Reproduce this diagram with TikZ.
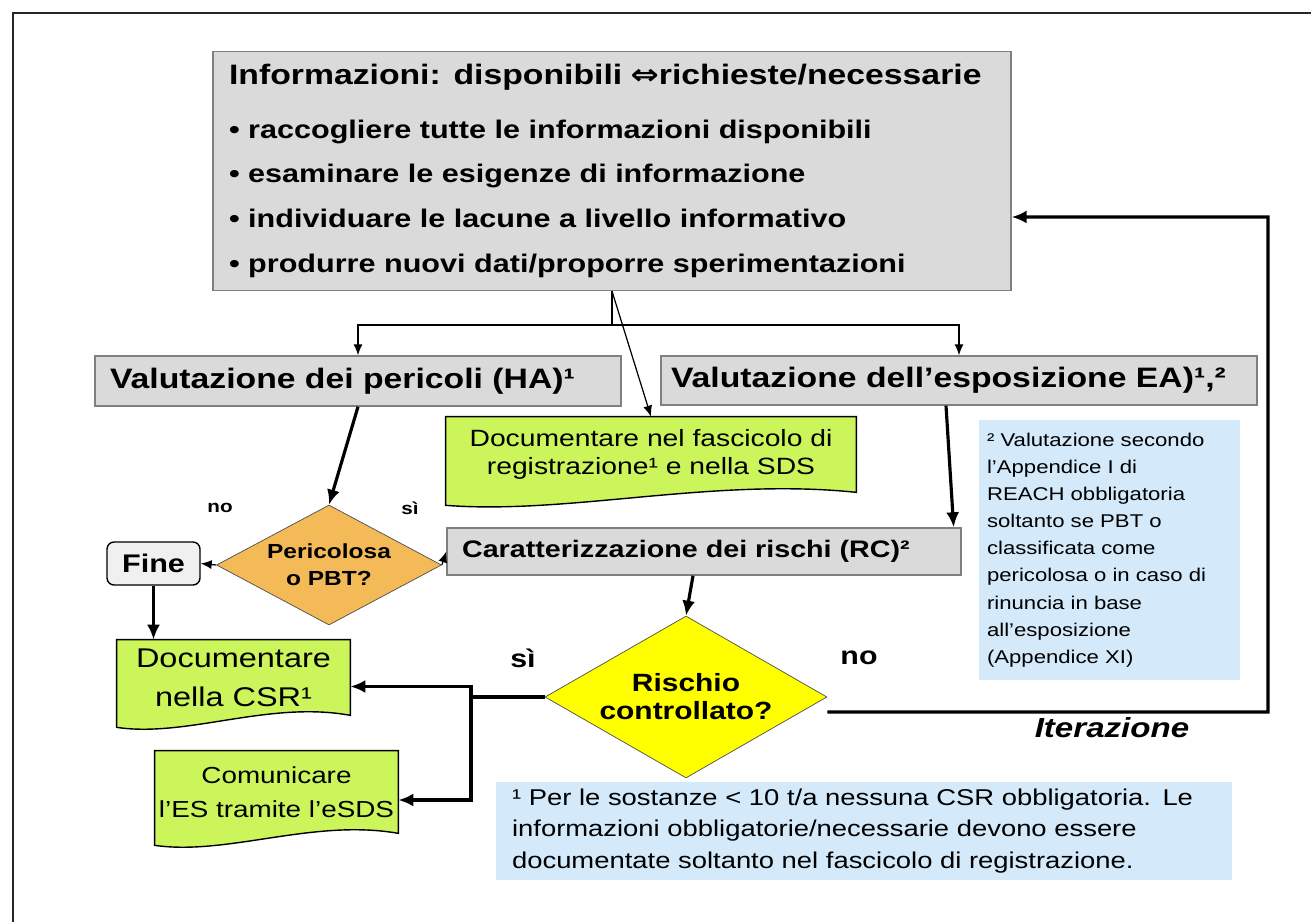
\documentclass[tikz,border=0pt]{standalone}
\usepackage{fontspec}
\setmainfont{Liberation Sans}[FakeStretch=1.2]
\newfontfamily\symfont{DejaVu Sans}[FakeStretch=1.2]
\usetikzlibrary{shapes.geometric}
\usetikzlibrary{arrows.meta}
\usetikzlibrary{calc}
\usetikzlibrary{backgrounds}

\definecolor{boxgray}{RGB}{218,218,218}
\definecolor{docgreen}{RGB}{204,245,92}
\definecolor{pbtorange}{RGB}{245,186,88}
\definecolor{ctrlyellow}{RGB}{255,255,0}
\definecolor{noteblue}{RGB}{212,233,250}

\begin{document}
\begin{tikzpicture}[x=0.02cm,y=-0.02cm,
  greybox/.style={draw=black!50, fill=boxgray, line width=0.8pt, inner ysep=0pt, align=left},
  docbox/.style={draw=black, fill=docgreen, line width=0.8pt},
  doctext/.style={inner sep=0pt, align=center},
  notebox/.style={fill=noteblue, inner ysep=0pt, align=left},
  flow/.style={-{Latex[length=2.2mm,width=1.8mm]}, line width=0.7pt},
  bigflow/.style={-{Latex[length=3mm,width=2.6mm]}, line width=1.8pt}]
    \useasboundingbox (0,0) rectangle (1311,922);
    \draw[line width=1pt, black!85] (13,922) -- (13,13) -- (1311,13);

    \node[greybox, text width=15.32cm, inner xsep=0.32cm, minimum height=4.78cm,
          font=\bfseries\fontsize{14.5}{25.5}\selectfont] (info) at (612,171)
      {{\fontsize{16}{25.5}\selectfont Informazioni: disponibili {\symfont ⇔}richieste/necessarie}\\[5pt]
       • raccogliere tutte le informazioni disponibili\\
       • esaminare le esigenze di informazione\\
       • individuare le lacune a livello informativo\\
       • produrre nuovi dati/proporre sperimentazioni\\[-6pt]};

    \node[greybox, text width=9.92cm, inner xsep=0.3cm, minimum height=1cm,
          font=\bfseries\fontsize{16}{18}\selectfont] (ha) at (358,381)
      {Valutazione dei pericoli (HA)¹};
    \node[greybox, text width=11.52cm, inner xsep=0.2cm, minimum height=0.98cm,
          font=\bfseries\fontsize{16}{18}\selectfont] (ea) at (959,380.5)
      {Valutazione dell'esposizione EA)¹,²};
    \node[doctext, minimum width=8.2cm, minimum height=1.5cm,
          font=\fontsize{13.4}{16.4}\selectfont] (docreg) at (651,454.5)
      {Documentare nel fascicolo di\\registrazione¹ e nella SDS};

    \node[diamond, aspect=1.875, draw=black!70, fill=pbtorange, inner sep=0pt,
          minimum width=4.5cm, minimum height=2.4cm, align=center,
          font=\bfseries\fontsize{11.6}{15.3}\selectfont] (pbt) at (329,565)
      {Pericolosa\\o PBT?};
    \node[draw=black, fill=black!6, rounded corners=4pt, line width=0.8pt,
          minimum width=1.86cm, minimum height=0.86cm,
          font=\bfseries\fontsize{14.5}{17}\selectfont] (fine) at (153.5,563.5) {Fine};
    \node[greybox, text width=9.68cm, inner xsep=0.3cm, minimum height=0.94cm,
          font=\bfseries\fontsize{13.6}{16}\selectfont] (rc) at (704,551.5)
      {Caratterizzazione dei rischi (RC)²};

    \node[notebox, text width=4.9cm, inner xsep=0.16cm, minimum height=5.2cm,
          font=\fontsize{10.5}{15.45}\selectfont] (note2) at (1109.5,550)
      {² Valutazione secondo\\l'Appendice I di\\REACH obbligatoria\\soltanto se PBT o\\
       classificata come\\pericolosa o in caso di\\rinuncia in base\\all'esposizione\\(Appendice XI)};

    \node[diamond, aspect=1.74, draw=black!70, fill=ctrlyellow, inner sep=0pt,
          minimum width=5.64cm, minimum height=3.24cm, align=center,
          font=\bfseries\fontsize{14.2}{15.9}\selectfont] (ctrl) at (686,697)
      {Rischio\\controllato?};

    \node[doctext, minimum width=4.66cm, minimum height=1.5cm,
          font=\fontsize{15.4}{22}\selectfont] (doccsr) at (233.5,677.5)
      {Documentare\\nella CSR¹};
    \node[doctext, minimum width=4.86cm, minimum height=1.64cm,
          font=\fontsize{13.2}{19.3}\selectfont] (comes) at (276.5,792)
      {Comunicare\\l'ES tramite l'eSDS};

    \node[notebox, text width=14.08cm, inner xsep=0.32cm, minimum height=1.96cm,
          font=\fontsize{13}{17.9}\selectfont] (note1) at (864,831)
      {¹ Per le sostanze < 10 t/a nessuna CSR obbligatoria. Le\\
       informazioni obbligatorie/necessarie devono essere\\
       documentate soltanto nel fascicolo di registrazione.};

    % labels
    \node[font=\bfseries\fontsize{9.8}{11}\selectfont] (pbtno) at (220,508) {no};
    \node[font=\bfseries\fontsize{9.8}{11}\selectfont] (pbtsi) at (410,508) {sì};
    \node[font=\bfseries\fontsize{14.4}{17}\selectfont] (ctrlsi) at (523,658) {sì};
    \node[font=\bfseries\fontsize{14.4}{17}\selectfont] (ctrlno) at (859,658) {no};
    \node[font=\bfseries\itshape\fontsize{15.7}{18}\selectfont] (iter) at (1112,728) {Iterazione};

    % document shapes
    \begin{scope}[on background layer]
    \foreach \n/\l in {docreg/-0.26, doccsr/-0.24, comes/-0.24} {
      \draw[docbox] (\n.north west) -- (\n.north east) -- (\n.south east)
        .. controls ($(\n.south west)!0.65!(\n.south east)+(0cm,0.3cm)$)
        and ($(\n.south west)!0.3!(\n.south east)+(0cm,-0.45cm)$)
        .. ([yshift=\l cm]\n.south west) -- cycle;
    }
    \end{scope}

    % connectors
    \coordinate (split) at (612,325);
    \coordinate (fork) at (471,697);
    \coordinate (loop) at (1268,712);
    \draw[line width=0.7pt] (info.south) -- (split);
    \draw[flow] (split) -| (ha.north);
    \draw[flow] (split) -| (ea.north);
    \draw[flow] (info.south) -- (docreg.north);
    \draw[bigflow] (ha.south) -- (pbt.north);
    \draw[flow] (pbt.west) -- (fine.east);
    \draw[flow] (pbt.east) -- (rc.west);
    \draw[bigflow] (fine.south) -- (fine.south |- doccsr.north);
    \draw[bigflow] ([xshift=-0.26cm]ea.south) -- ([xshift=-0.16cm]rc.north east);
    \draw[bigflow] ([xshift=-0.22cm]rc.south) -- (ctrl.north);
    \draw[line width=1.8pt] (ctrl.west) -- (fork);
    \draw[bigflow] (fork) |- ([yshift=-0.18cm]doccsr.east);
    \draw[bigflow] (fork) |- ([yshift=-0.16cm]comes.east);
    \draw[bigflow] ([yshift=-0.3cm]ctrl.east) -- (loop) |- ([yshift=-0.92cm]info.east);
\end{tikzpicture}
\end{document}
